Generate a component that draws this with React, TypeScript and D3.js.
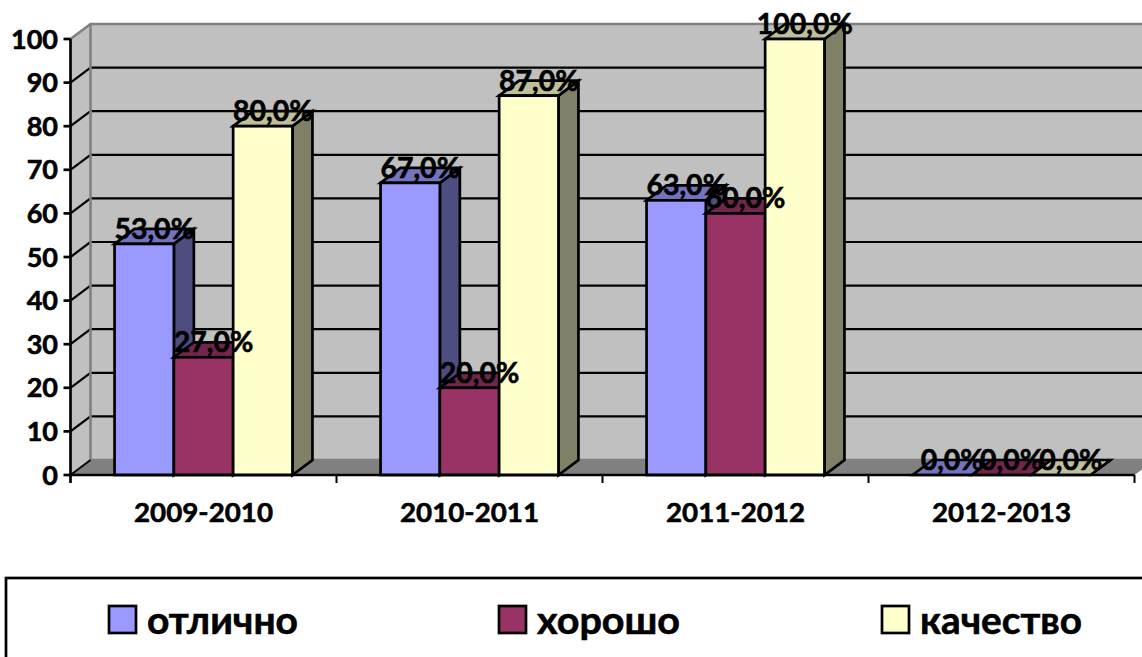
import React from "react";
import * as d3 from "d3";

const categories = ["2009-2010", "2010-2011", "2011-2012", "2012-2013"];
const excellent = [53, 67, 63, 0];
const good = [27, 20, 60, 0];
const quality = [80, 87, 100, 0];
const seriesNames = ["отлично", "хорошо", "качество"];
const seriesValues = [excellent, good, quality];
const fronts = ["#9999ff", "#993366", "#ffffcc"];
const tops = ["#7373bf", "#73264d", "#bfbf99"];
const sides = ["#4d4d80", "#4d1a33", "#808066"];
const yTicks = d3.range(0, 101, 10);

const W = 1142, H = 657;
const dx = 20, dy = -15;
const x0 = d3.scaleBand<string>().domain(categories).range([70.5, 1134.5]).paddingInner(0).paddingOuter(0);
const y = d3.scaleLinear().domain([0, 100]).range([475, 39]);
const FONT = "Lato, Carlito, sans-serif";

const pts = (a: number[][]) => a.map((p) => p.join(",")).join(" ");
const heavy = { stroke: "#000", strokeWidth: 0.6 };

export default function App() {
  const barW = 59.3;
  const inset = (x0.bandwidth() - barW * 3) / 2;
  const left = 70.5, right = 1134.5, bot = y(0), top = y(100);
  return (
    <svg width={W} height={H} style={{ position: "absolute", left: 0, top: 0, background: "#fff" }} fontFamily={FONT} fontWeight={700}>
      {/* walls */}
      <polygon points={pts([[left + dx, top + dy], [right + dx, top + dy], [right + dx, bot + dy], [left + dx, bot + dy]])} fill="#c0c0c0" />
      <polygon points={pts([[left, top], [left + dx, top + dy], [left + dx, bot + dy], [left, bot]])} fill="#c0c0c0" />
      <polygon points={pts([[left, bot], [left + dx, bot + dy], [right + dx, bot + dy], [right, bot]])} fill="#808080" />
      {yTicks.slice(1, -1).map((t) => (
        <g key={t} stroke="#000" strokeWidth={2.2}>
          <line x1={left + dx} x2={right + dx} y1={y(t) + dy} y2={y(t) + dy} />
          <line x1={left} x2={left + dx} y1={y(t)} y2={y(t) + dy} />
        </g>
      ))}
      <polyline points={pts([[left, top], [left + dx, top + dy], [right + dx, top + dy]])} fill="none" stroke="#808080" strokeWidth={2.6} />
      <polyline points={pts([[left + dx, top + dy], [left + dx, bot + dy], [right + dx, bot + dy]])} fill="none" stroke="#808080" strokeWidth={2.6} />
      <line x1={left} x2={left + dx} y1={bot} y2={bot + dy} stroke="#000" strokeWidth={2} />
      {/* bars */}
      {categories.map((c, ci) =>
        seriesValues.map((vals, si) => {
          const bx = (x0(c) as number) + inset + si * barW;
          const by = y(vals[ci]);
          return (
            <g key={c + si} stroke="#000" strokeWidth={2.7} strokeLinejoin="miter">
              <polygon points={pts([[bx + barW, by], [bx + barW + dx, by + dy], [bx + barW + dx, bot + dy], [bx + barW, bot]])} fill={sides[si]} />
              <polygon points={pts([[bx, by], [bx + dx, by + dy], [bx + barW + dx, by + dy], [bx + barW, by]])} fill={tops[si]} />
              <rect x={bx} y={by} width={barW} height={bot - by} fill={fronts[si]} />
            </g>
          );
        })
      )}
      {/* axes */}
      <line x1={left} x2={left} y1={top} y2={bot + 8} stroke="#000" strokeWidth={2.7} />
      <line x1={left} x2={right} y1={bot} y2={bot} stroke="#000" strokeWidth={2.7} />
      {yTicks.map((t) => (
        <g key={t}>
          <line x1={left - 7} x2={left} y1={y(t)} y2={y(t)} stroke="#000" strokeWidth={2.7} />
          <text x={left - 12.5} y={y(t) + 9.5} textAnchor="end" fontSize={27} fill="#000" {...heavy}>{t}</text>
        </g>
      ))}
      {categories.map((c) => (
        <g key={c}>
          <line x1={(x0(c) as number) + x0.bandwidth()} x2={(x0(c) as number) + x0.bandwidth()} y1={bot} y2={bot + 8} stroke="#000" strokeWidth={2} />
          <text x={(x0(c) as number) + x0.bandwidth() / 2} y={522} textAnchor="middle" fontSize={27.5} fill="#000" {...heavy}
            textLength={139} lengthAdjust="spacingAndGlyphs">{c}</text>
        </g>
      ))}
      {/* data labels */}
      {categories.map((c, ci) =>
        seriesValues.map((vals, si) => (
          <text key={c + si} x={(x0(c) as number) + inset + si * barW + barW / 2 + 10} y={y(vals[ci]) - 5} textAnchor="middle" fontSize={28.5} fill="#000" {...heavy}>
            {vals[ci].toFixed(1).replace(".", ",") + "%"}
          </text>
        ))
      )}
      {/* legend */}
      <rect x={6} y={578} width={1200} height={120} fill="#fff" stroke="#000" strokeWidth={2.7} />
      {seriesNames.map((n, i) => {
        const sx = [109, 499, 882][i];
        const tw = [151, 143, 162][i];
        return (
          <g key={n}>
            <rect x={sx} y={606} width={27} height={27} fill={fronts[i]} stroke="#000" strokeWidth={2.7} />
            <text x={sx + 38} y={634} fontSize={38} fill="#000" {...heavy} textLength={tw} lengthAdjust="spacingAndGlyphs">{n}</text>
          </g>
        );
      })}
    </svg>
  );
}
